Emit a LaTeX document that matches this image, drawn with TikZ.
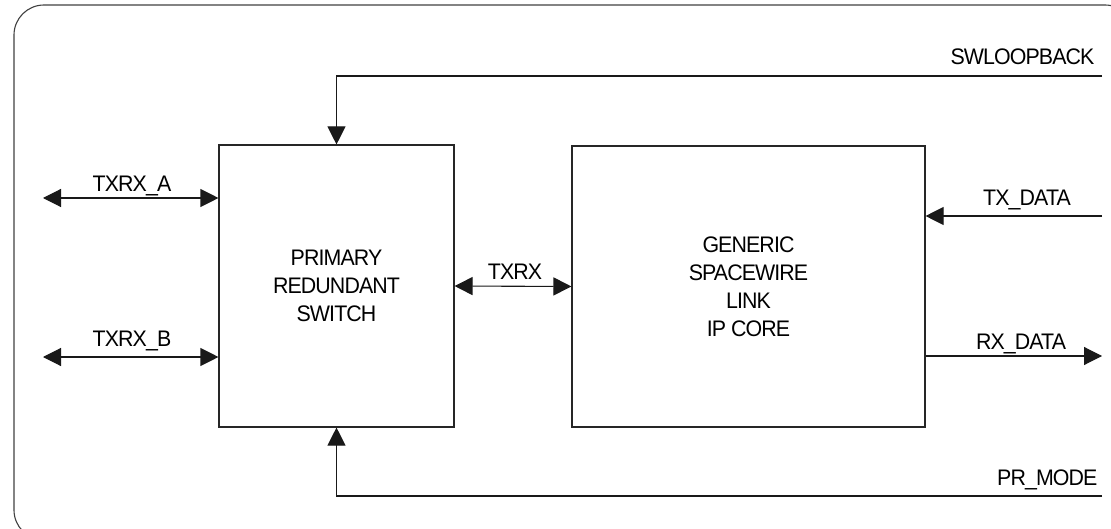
\documentclass[tikz,border=0pt]{standalone}
\usepackage{fontspec}
\setmainfont{Liberation Sans}[FakeStretch=0.95, LetterSpace=-4]
\usetikzlibrary{arrows.meta}
\begin{document}
\begin{tikzpicture}[x=1pt,y=-1pt,
  line width=1.1pt,
  every node/.style={font=\fontsize{22.5}{28}\selectfont, text=black},
  block/.style={draw=black!85, line width=1.1pt, minimum width=#1, inner sep=0pt, align=center},
  wire/.style={draw=black!90, line width=1.1pt},
  tip/.style={-{Triangle[length=18pt,width=18pt]}},
  btip/.style={{Triangle[length=18pt,width=18pt]}-{Triangle[length=18pt,width=18pt]}},
  lbl/.style={anchor=base, inner sep=0pt},
  lblr/.style={anchor=base east, inner sep=0pt}
]
\useasboundingbox (0,0) rectangle (1111,529);
\begin{scope}
  \clip (0,0) rectangle (1111,529);
  \draw[draw=black!75, line width=1.1pt, rounded corners=30pt] (14,5) rectangle (1135,540);
\end{scope}

% blocks
\node[block=235pt, minimum height=282pt] (prs) at (336.5,286) {PRIMARY\\REDUNDANT\\SWITCH};
\node[block=353pt, minimum height=281pt] (gen) at (748.5,286.5) {GENERIC\\SPACEWIRE\\LINK\\IP CORE};

% free ends
\coordinate (swR) at (1102,76);
\coordinate (prR) at (1102,496);
\coordinate (aL) at (43,198);
\coordinate (bL) at (43,357);
\coordinate (txR) at (1102,216);
\coordinate (rxR) at (1102,356);

% connectors
\draw[wire, tip] (swR) -| (prs.north);
\draw[wire, tip] (prR) -| (prs.south);
\draw[wire, btip] (aL) -- (aL -| prs.west);
\draw[wire, btip] (bL) -- (bL -| prs.west);
\draw[wire, btip] (prs.east) -- (gen.west);
\draw[wire, tip] (txR) -- (txR -| gen.east);
\draw[wire, tip] (rxR -| gen.east) -- (rxR);

% labels
\node[lbl] (lA) at (132,192) {TXRX\_A};
\node[lbl] (lB) at (132,346) {TXRX\_B};
\node[lbl] (lT) at (515,280) {TXRX};
\node[lblr] (lS) at (1095,65) {SWLOOPBACK};
\node[lbl] (lTX) at (1027,206) {TX\_DATA};
\node[lbl] (lRX) at (1021,349.5) {RX\_DATA};
\node[lblr] (lP) at (1098,485.5) {PR\_MODE};
\end{tikzpicture}
\end{document}
